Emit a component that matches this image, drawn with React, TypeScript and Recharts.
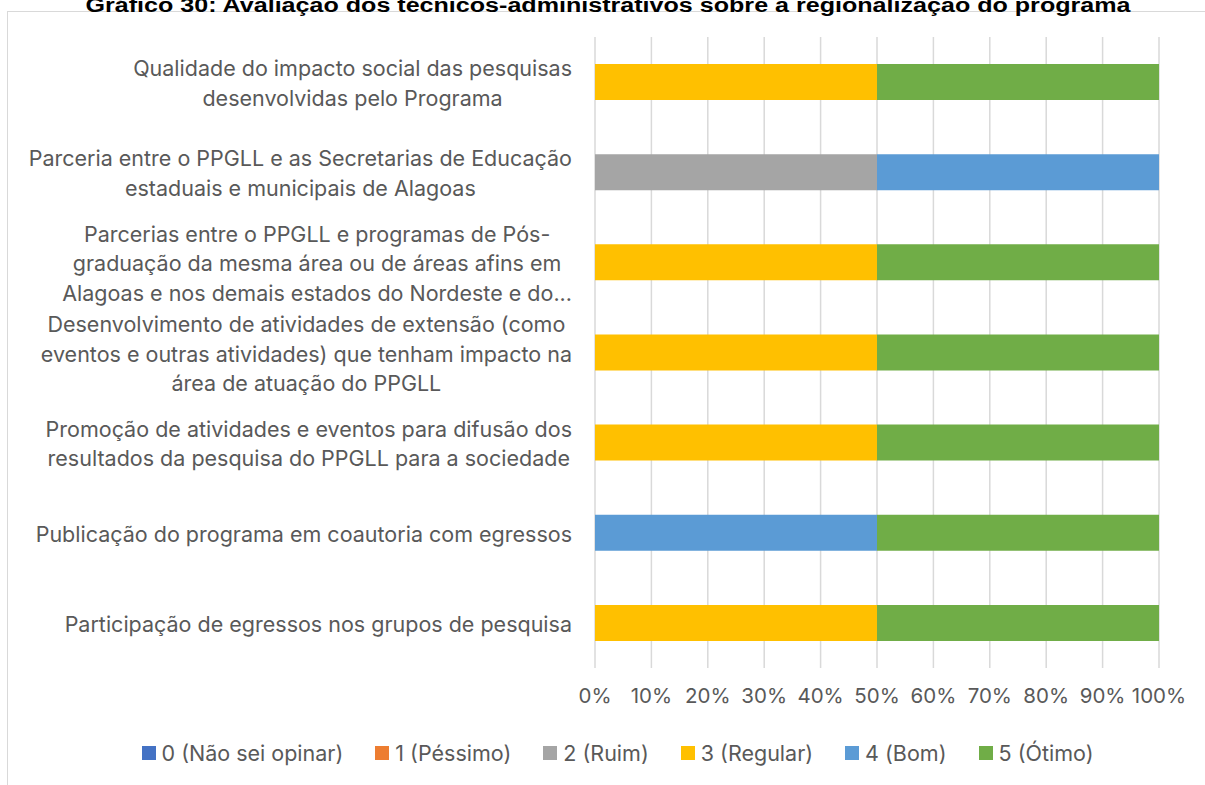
import { BarChart, Bar, XAxis, YAxis, CartesianGrid, Legend } from 'recharts';

const categories: string[][] = [
  ['Qualidade do impacto social das pesquisas', 'desenvolvidas pelo Programa'],
  ['Parceria entre o PPGLL e as Secretarias de Educação', 'estaduais e municipais de Alagoas'],
  [
    'Parcerias entre o PPGLL e programas de Pós-',
    'graduação da mesma área ou de áreas afins em',
    'Alagoas e nos demais estados do Nordeste e do...',
  ],
  [
    'Desenvolvimento de atividades de extensão (como',
    'eventos e outras atividades) que tenham impacto na',
    'área de atuação do PPGLL',
  ],
  ['Promoção de atividades e eventos para difusão dos', 'resultados da pesquisa do PPGLL para a sociedade'],
  ['Publicação do programa em coautoria com egressos'],
  ['Participação de egressos nos grupos de pesquisa'],
];

const naoSei = [0, 0, 0, 0, 0, 0, 0];
const pessimo = [0, 0, 0, 0, 0, 0, 0];
const ruim = [0, 1, 0, 0, 0, 0, 0];
const regular = [1, 0, 1, 1, 1, 0, 1];
const bom = [0, 1, 0, 0, 0, 1, 0];
const otimo = [1, 0, 1, 1, 1, 1, 1];

const ticks = [0, 0.1, 0.2, 0.3, 0.4, 0.5, 0.6, 0.7, 0.8, 0.9, 1];

const series = [
  { key: 'naoSei', name: '0 (Não sei opinar)', color: '#4472C4', values: naoSei },
  { key: 'pessimo', name: '1 (Péssimo)', color: '#ED7D31', values: pessimo },
  { key: 'ruim', name: '2 (Ruim)', color: '#A5A5A5', values: ruim },
  { key: 'regular', name: '3 (Regular)', color: '#FFC000', values: regular },
  { key: 'bom', name: '4 (Bom)', color: '#5B9BD5', values: bom },
  { key: 'otimo', name: '5 (Ótimo)', color: '#70AD47', values: otimo },
];

const data = categories.map((lines, i) => {
  const row: any = { name: lines.join(' '), lines };
  series.forEach((s) => {
    row[s.key] = s.values[i];
  });
  return row;
});

const FONT = 'Inter, sans-serif';
const FONT_SIZE = 21.5;
const TEXT = '#595959';

let ctx: CanvasRenderingContext2D | null = null;
function measure(t: string) {
  if (!ctx) ctx = document.createElement('canvas').getContext('2d');
  if (!ctx) return t.length * 10;
  ctx.font = `${FONT_SIZE}px Inter`;
  return ctx.measureText(t).width;
}

function CategoryTick(props: any) {
  const { x, y, payload } = props;
  const lines: string[] = categories[payload.index] || [String(payload.value)];
  const maxW = Math.max(...lines.map(measure));
  const cx = x - maxW / 2;
  const lh = 29.5;
  const start = y - ((lines.length - 1) * lh) / 2;
  return (
    <text fill={TEXT} fontSize={FONT_SIZE} fontFamily={FONT} textAnchor="middle">
      {lines.map((l, i) => (
        <tspan key={i} x={cx} y={start + i * lh} dy="0.42em">
          {l}
        </tspan>
      ))}
    </text>
  );
}

function LegendContent() {
  return (
    <div
      style={{
        display: 'flex',
        justifyContent: 'center',
        alignItems: 'center',
        height: 30,
        fontFamily: FONT,
        fontSize: FONT_SIZE,
        color: TEXT,
        paddingLeft: 68,
      }}
    >
      {series.map((s) => (
        <div key={s.key} style={{ display: 'flex', alignItems: 'center', margin: '0 16px' }}>
          <span style={{ width: 14, height: 14, background: s.color, marginRight: 6, display: 'inline-block' }} />
          <span>{s.name}</span>
        </div>
      ))}
    </div>
  );
}

export default function App() {
  return (
    <div style={{ position: 'absolute', left: 0, top: 0, width: 1205, height: 785, background: '#fff', overflow: 'hidden' }}>
      <svg width={1205} height={785} style={{ position: 'absolute', left: 0, top: 0 }}>
        <rect x={7.5} y={11.5} width={1210} height={800} fill="none" stroke="#d9d9d9" strokeWidth={1} />
        <text
          x={608}
          y={12}
          textAnchor="middle"
          fontFamily="'Liberation Sans', Arial, sans-serif"
          fontWeight="bold"
          fontSize={20}
          fill="#000"
          textLength={1045}
          lengthAdjust="spacingAndGlyphs"
        >
          Gráfico 30: Avaliação dos técnicos-administrativos sobre a regionalização do programa
        </text>
      </svg>
      <div style={{ position: 'absolute', left: 0, top: 0 }}>
        <BarChart
          width={1205}
          height={785}
          data={data}
          layout="vertical"
          stackOffset="expand"
          barCategoryGap="30%"
          margin={{ top: 37, right: 46, left: 8, bottom: 17 }}
        >
          <CartesianGrid horizontal={false} stroke="#d9d9d9" strokeWidth={1.5} />
          <XAxis
            type="number"
            domain={[0, 1]}
            ticks={ticks}
            tickFormatter={(v: number) => `${Math.round(v * 100)}%`}
            axisLine={false}
            tickLine={false}
            tickSize={0}
            tickMargin={20}
            height={70}
            interval={0}
            tick={{ fill: TEXT, fontSize: 20.5, fontFamily: FONT }}
          />
          <YAxis
            type="category"
            dataKey="name"
            width={587}
            axisLine={false}
            tickLine={false}
            tickSize={0}
            tickMargin={23}
            interval={0}
            tick={<CategoryTick />}
          />
          <Legend verticalAlign="bottom" content={<LegendContent />} />
          {series.map((s) => (
            <Bar key={s.key} dataKey={s.key} stackId="a" fill={s.color} name={s.name} isAnimationActive={false} />
          ))}
        </BarChart>
      </div>
    </div>
  );
}
